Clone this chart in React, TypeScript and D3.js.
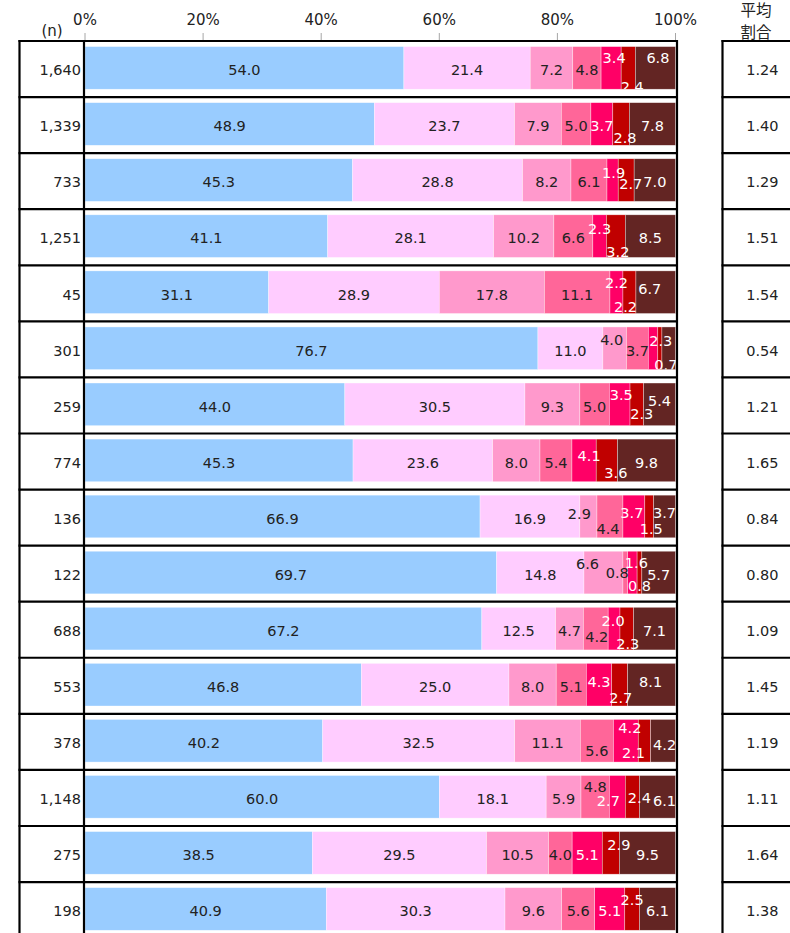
import React from "react";
import * as d3 from "d3";

// Respondent counts per row and average ratio shown in the right-hand column
const sampleSizes = [1640, 1339, 733, 1251, 45, 301, 259, 774, 136, 122, 688, 553, 378, 1148, 275, 198];
const avgRatios = [1.24, 1.4, 1.29, 1.51, 1.54, 0.54, 1.21, 1.65, 0.84, 0.8, 1.09, 1.45, 1.19, 1.11, 1.64, 1.38];

// Share (%) of each answer level, one array per level, rows in display order
const level1 = [54.0, 48.9, 45.3, 41.1, 31.1, 76.7, 44.0, 45.3, 66.9, 69.7, 67.2, 46.8, 40.2, 60.0, 38.5, 40.9];
const level2 = [21.4, 23.7, 28.8, 28.1, 28.9, 11.0, 30.5, 23.6, 16.9, 14.8, 12.5, 25.0, 32.5, 18.1, 29.5, 30.3];
const level3 = [7.2, 7.9, 8.2, 10.2, 17.8, 4.0, 9.3, 8.0, 2.9, 6.6, 4.7, 8.0, 11.1, 5.9, 10.5, 9.6];
const level4 = [4.8, 5.0, 6.1, 6.6, 11.1, 3.7, 5.0, 5.4, 4.4, 0.8, 4.2, 5.1, 5.6, 4.8, 4.0, 5.6];
const level5 = [3.4, 3.7, 1.9, 2.3, 2.2, 1.6, 3.5, 4.1, 3.7, 1.6, 2.0, 4.3, 4.2, 2.7, 5.1, 5.1];
const level6 = [2.4, 2.8, 2.7, 3.2, 2.2, 0.7, 2.3, 3.6, 1.5, 0.8, 2.3, 2.7, 2.1, 2.4, 2.9, 2.5];
const level7 = [6.8, 7.8, 7.0, 8.5, 6.7, 2.3, 5.4, 9.8, 3.7, 5.7, 7.1, 8.1, 4.2, 6.1, 9.5, 6.1];

const axisTicks = [0, 20, 40, 60, 80, 100];

const levels = [level1, level2, level3, level4, level5, level6, level7];
const levelKeys = levels.map((_, i) => `l${i}`);
const colors = ["#99CCFF", "#FFCCFF", "#FF99CC", "#FF6699", "#FF0066", "#C00000", "#632523"];
const textColors = ["#222", "#222", "#222", "#222", "#fff", "#fff", "#fff"];

// Labels that are not drawn: [row, level]
const hiddenLabels = [[5, 4]];

// Label nudges for crowded small segments: [row, level, dx, dy]
const labelNudges: [number, number, number, number][] = [
  [0, 4, 3, -12], [0, 5, 4, 17], [0, 6, 2.5, -12.5],
  [1, 5, 4, 12],
  [2, 4, 1, -9], [2, 5, 4.5, 2],
  [3, 4, 0, -9], [3, 5, 2, 14],
  [4, 4, 0, -12], [4, 5, -4, 12], [4, 6, -6, -6],
  [5, 2, -3, -10.5], [5, 6, -8, -9.5], [5, 5, 6, 14],
  [6, 4, 1.5, -12], [6, 5, 5, 7.5], [6, 6, 0, -6],
  [7, 4, 5, -7], [7, 5, 9, 10],
  [8, 2, -9, -5], [8, 3, -2, 10.5], [8, 4, -2, -6], [8, 5, 2, 10.5], [8, 6, 0, -6],
  [9, 2, -16, -10.5], [9, 3, -8, -2], [9, 4, 4, -12], [9, 5, 0, 11.5],
  [10, 3, 1, 6.5], [10, 4, -1, -10], [10, 5, 1, 13],
  [11, 4, 0, -5], [11, 5, 1, 11], [11, 6, -1, -5],
  [12, 3, 0, 7.5], [12, 4, 4, -15], [12, 5, -11, 10], [12, 6, 1.5, 1.5],
  [13, 3, 0, -12], [13, 4, -9, 2], [13, 5, 7, -1.5], [13, 6, 7, 2],
  [14, 5, 8, -10.5],
  [15, 5, 0, -11.5],
];

const FONT = "'DejaVu Sans', 'Noto Sans CJK JP', sans-serif";

export default function App() {
  const width = 790;
  const height = 933;

  const rows = sampleSizes.map((n, i) => {
    const r: Record<string, number> = { idx: i };
    levels.forEach((arr, k) => (r[levelKeys[k]] = arr[i]));
    return r;
  });

  const stacked = d3.stack<Record<string, number>>().keys(levelKeys).offset(d3.stackOffsetExpand)(rows);

  const x = d3.scaleLinear().domain([0, 1]).range([85, 675.5]);
  const y = d3
    .scaleBand<number>()
    .domain(d3.range(sampleSizes.length))
    .range([41, 41 + 56.07 * sampleSizes.length]);
  const bw = y.bandwidth();
  const barTop = (i: number) => (y(i) as number) + bw * 0.1;
  const barH = bw * 0.76;
  const labelY = (i: number) => (y(i) as number) + 29;

  const nudge = (r: number, k: number) => {
    const f = labelNudges.find((d) => d[0] === r && d[1] === k);
    return f ? [f[2], f[3]] : [0, 0];
  };
  const isHidden = (r: number, k: number) => hiddenLabels.some((d) => d[0] === r && d[1] === k);

  const fmtN = d3.format(",");
  const fmtV = d3.format(".1f");
  const fmtA = d3.format(".2f");

  const tableLeft = 19.5;
  const nRight = 84;
  const plotRight = 677;
  const avgLeft = 722.5;
  const lineW = 2.2;
  const bottom = 41 + 56.07 * sampleSizes.length;

  return (
    <svg
      width={width}
      height={height}
      style={{ position: "absolute", left: 0, top: 0, background: "#fff" }}
      fontFamily={FONT}
    >
      <defs>
        {sampleSizes.map((_, i) => (
          <clipPath id={`rowclip${i}`} key={i}>
            <rect x={80} y={(y(i) as number) + 1} width={600} height={barTop(i) + barH - (y(i) as number) - 1} />
          </clipPath>
        ))}
      </defs>

      {/* top percent axis */}
      {axisTicks.map((t) => (
        <g key={t}>
          <line x1={x(t / 100)} x2={x(t / 100)} y1={33} y2={41} stroke="#a6a6a6" strokeWidth={1} />
          <text x={x(t / 100)} y={25} textAnchor="middle" fontSize={15} fill="#222">
            {t}%
          </text>
        </g>
      ))}

      <text x={52} y={36} textAnchor="middle" fontSize={15} fill="#222">
        (n)
      </text>
      <text x={756} y={16} textAnchor="middle" fontSize={15.5} fill="#222">
        平均
      </text>
      <text x={756} y={38} textAnchor="middle" fontSize={15.5} fill="#222">
        割合
      </text>

      {/* stacked bars */}
      {stacked.map((series, k) => (
        <g key={series.key}>
          {series.map((d, i) => (
            <rect
              key={i}
              x={x(d[0])}
              y={barTop(i)}
              width={Math.max(0, x(d[1]) - x(d[0]))}
              height={barH}
              fill={colors[k]}
              stroke="#ffffff"
              strokeOpacity={0.55}
              strokeWidth={0.6}
            />
          ))}
        </g>
      ))}

      {/* value labels */}
      {sampleSizes.map((_, i) => (
        <g key={i} clipPath={`url(#rowclip${i})`}>
          {stacked.map((series, k) => {
            if (isHidden(i, k)) return null;
            const d = series[i];
            const [dx, dy] = nudge(i, k);
            return (
              <text
                key={k}
                x={(x(d[0]) + x(d[1])) / 2 + dx}
                y={labelY(i) + dy}
                dy="0.36em"
                textAnchor="middle"
                fontSize={14.5}
                fill={textColors[k]}
              >
                {fmtV(levels[k][i])}
              </text>
            );
          })}
        </g>
      ))}

      {/* n column values */}
      {sampleSizes.map((n, i) => (
        <text key={i} x={81} y={labelY(i)} dy="0.36em" textAnchor="end" fontSize={14.5} fill="#222">
          {fmtN(n)}
        </text>
      ))}

      {/* average column values */}
      {avgRatios.map((v, i) => (
        <text key={i} x={778.5} y={labelY(i)} dy="0.36em" textAnchor="end" fontSize={14.5} fill="#222">
          {fmtA(v)}
        </text>
      ))}

      {/* table grid lines */}
      {d3.range(sampleSizes.length + 1).map((i) => {
        const yy = 41 + 56.07 * i;
        return (
          <g key={i}>
            <line x1={tableLeft - 1} x2={plotRight + 1} y1={yy} y2={yy} stroke="#000" strokeWidth={lineW} />
            <line x1={avgLeft - 1} x2={width + 2} y1={yy} y2={yy} stroke="#000" strokeWidth={lineW} />
          </g>
        );
      })}
      {[tableLeft, nRight, plotRight, avgLeft].map((xx) => (
        <line key={xx} x1={xx} x2={xx} y1={41 - 1} y2={bottom} stroke="#000" strokeWidth={lineW} />
      ))}
    </svg>
  );
}
